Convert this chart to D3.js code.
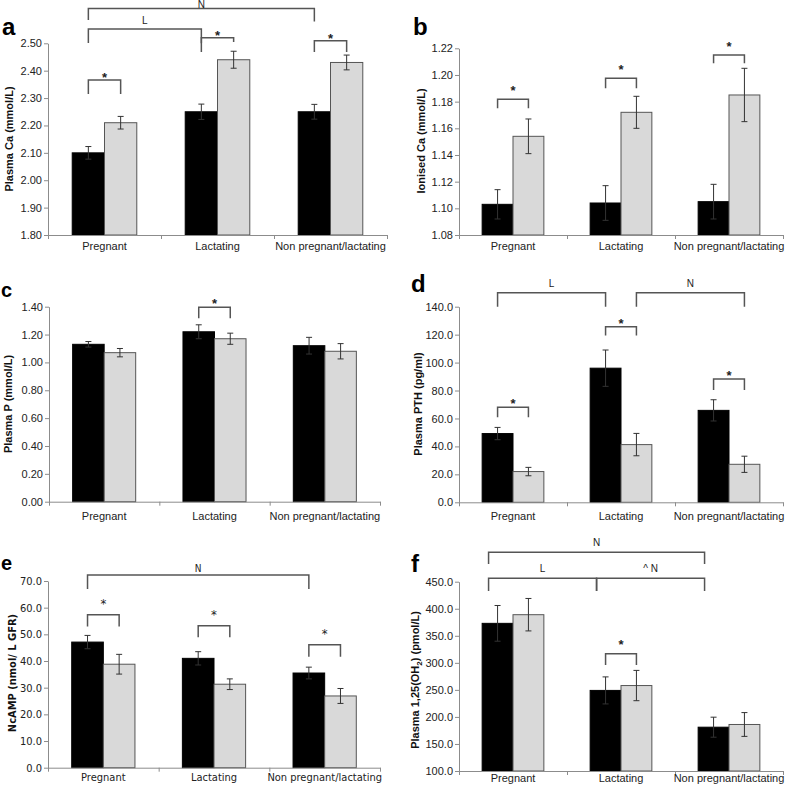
<!DOCTYPE html>
<html>
<head>
<meta charset="utf-8">
<script src="https://cdn.jsdelivr.net/npm/d3@7"></script>
<style>
body{margin:0;background:#fff;}
svg{display:block;}
</style>
</head>
<body>
<svg id="chart" width="787" height="789"></svg>
<script>
// ---------- data ----------
const categories = ["Pregnant", "Lactating", "Non pregnant/lactating"];
const series = ["Group 1", "Group 2"];

// a: Plasma Ca
const caBlack = [2.10, 2.25, 2.25];
const caGrey = [2.21, 2.44, 2.43];
const caBlackErr = [0.023, 0.028, 0.027];
const caGreyErr = [0.023, 0.031, 0.027];
const caTicks = [1.80, 1.90, 2.00, 2.10, 2.20, 2.30, 2.40, 2.50];

// b: Ionised Ca
const ionBlack = [1.103, 1.104, 1.105];
const ionGrey = [1.154, 1.172, 1.185];
const ionBlackErr = [0.011, 0.013, 0.013];
const ionGreyErr = [0.013, 0.012, 0.020];
const ionTicks = [1.08, 1.10, 1.12, 1.14, 1.16, 1.18, 1.20, 1.22];

// c: Plasma P
const pBlack = [1.13, 1.22, 1.12];
const pGrey = [1.07, 1.17, 1.08];
const pBlackErr = [0.02, 0.05, 0.06];
const pGreyErr = [0.03, 0.04, 0.055];
const pTicks = [0, 0.2, 0.4, 0.6, 0.8, 1.0, 1.2, 1.4];

// d: Plasma PTH
const pthBlack = [49.2, 96.0, 65.8];
const pthGrey = [22.0, 41.3, 27.2];
const pthBlackErr = [4.4, 13.0, 7.6];
const pthGreyErr = [3.0, 8.0, 5.8];
const pthTicks = [0, 20, 40, 60, 80, 100, 120, 140];

// e: NcAMP
const campBlack = [47.1, 41.0, 35.5];
const campGrey = [38.8, 31.3, 26.9];
const campBlackErr = [2.5, 2.5, 2.2];
const campGreyErr = [3.7, 2.0, 2.8];
const campTicks = [0, 10, 20, 30, 40, 50, 60, 70];

// f: Plasma 1,25(OH)2
const vitdBlack = [373, 249, 181];
const vitdGrey = [389, 258, 186];
const vitdBlackErr = [33, 25, 18.5];
const vitdGreyErr = [30, 28, 22];
const vitdTicks = [100, 150, 200, 250, 300, 350, 400, 450];

// significance brackets: ends as [category index, series index], levels in data units
const bracketsA = [
  {from: [0, 0], to: [0, 1], top: 2.366, legL: 2.315, legR: 2.315, label: "*"},
  {from: [1, 0], to: [1, 1], top: 2.520, legL: 2.500, legR: 2.505, label: "*"},
  {from: [2, 0], to: [2, 1], top: 2.509, legL: 2.468, legR: 2.468, label: "*"},
  {from: [0, 0], to: [1, 0], top: 2.552, legL: 2.501, legR: 2.468, label: "L"},
  {from: [0, 0], to: [2, 0], top: 2.627, legL: 2.585, legR: 2.580, label: "N"}
];
const bracketsB = [
  {from: [0, 0], to: [0, 1], top: 1.1818, legL: 1.175, legR: 1.175, label: "*"},
  {from: [1, 0], to: [1, 1], top: 1.1975, legL: 1.190, legR: 1.190, label: "*"},
  {from: [2, 0], to: [2, 1], top: 1.2150, legL: 1.2088, legR: 1.2088, label: "*"}
];
const bracketsC = [
  {from: [1, 0], to: [1, 1], top: 1.3956, legL: 1.3166, legR: 1.3166, label: "*"}
];
const bracketsD = [
  {from: [0, 0], to: [0, 1], top: 68.0, legL: 60.8, legR: 60.8, label: "*"},
  {from: [1, 0], to: [1, 1], top: 125.7, legL: 119.3, legR: 119.3, label: "*"},
  {from: [2, 0], to: [2, 1], top: 88.3, legL: 80.4, legR: 80.4, label: "*"},
  {from: [0, 0], to: [1, 0], top: 150.0, legL: 140.0, legR: 140.0, label: "L"},
  {from: [1, 1], to: [2, 1], top: 150.0, legL: 140.0, legR: 140.0, label: "N"}
];
const bracketsE = [
  {from: [0, 0], to: [0, 1], top: 57.3, legL: 52.9, legR: 52.9, label: "*"},
  {from: [1, 0], to: [1, 1], top: 53.2, legL: 48.9, legR: 48.9, label: "*"},
  {from: [2, 0], to: [2, 1], top: 46.1, legL: 41.6, legR: 41.6, label: "*"},
  {from: [0, 0], to: [2, 0], top: 72.25, legL: 67.0, legR: 67.0, label: "N"}
];
const bracketsF = [
  {from: [1, 0], to: [1, 1], top: 316.9, legL: 296.0, legR: 296.0, label: "*"},
  {from: [0, 0], to: [1, 0], top: 456.3, legL: 432.8, legR: 432.8, label: "L"},
  {from: [1, 0], to: [2, 0], top: 456.3, legL: 432.8, legR: 432.8, label: "^ N"},
  {from: [0, 0], to: [2, 0], top: 504.3, legL: 482.7, legR: 482.7, label: "N"}
];

// ---------- layout ----------
const panels = [
  {letter: "a", lx: 2, ly: 35, lsize: 24, title: ["Plasma Ca (mmol/L)"], tx: 13, ty: 139,
   x0: 48, x1: 387, yt: 43.3, yb: 235, domain: [1.80, 2.50], ticks: caTicks, fmt: ".2f",
   black: caBlack, grey: caGrey, bErr: caBlackErr, gErr: caGreyErr, brackets: bracketsA,
   catY: 251, starGap: 5, labGap: 9, condensed: false, bxShift: 0},
  {letter: "b", lx: 413, ly: 35, lsize: 24, title: ["Ionised Ca (mmol/L)"], tx: 425, ty: 141,
   x0: 459, x1: 783, yt: 48.3, yb: 235, domain: [1.08, 1.22], ticks: ionTicks, fmt: ".2f",
   black: ionBlack, grey: ionGrey, bErr: ionBlackErr, gErr: ionGreyErr, brackets: bracketsB,
   catY: 251, starGap: 11, labGap: 9, condensed: false, bxShift: 0},
  {letter: "c", lx: 1, ly: 297, lsize: 20, title: ["Plasma P (mmol/L)"], tx: 12, ty: 404,
   x0: 49, x1: 380, yt: 306.7, yb: 501.7, domain: [0, 1.4], ticks: pTicks, fmt: ".2f",
   black: pBlack, grey: pGrey, bErr: pBlackErr, gErr: pGreyErr, brackets: bracketsC,
   catY: 521, starGap: 6, labGap: 9, condensed: false, bxShift: 0},
  {letter: "d", lx: 411, ly: 292, lsize: 24, title: ["Plasma PTH (pg/ml)"], tx: 422, ty: 404,
   x0: 459, x1: 783, yt: 306.7, yb: 502.3, domain: [0, 140], ticks: pthTicks, fmt: ".1f",
   black: pthBlack, grey: pthGrey, bErr: pthBlackErr, gErr: pthGreyErr, brackets: bracketsD,
   catY: 521, starGap: 6, labGap: 9, condensed: false, bxShift: 0},
  {letter: "e", lx: 1, ly: 570, lsize: 20, title: ["NcAMP (nmol/ L GFR)"], tx: 16, ty: 673,
   x0: 48, x1: 380, yt: 581, yb: 767.7, domain: [0, 70], ticks: campTicks, fmt: ".1f",
   black: campBlack, grey: campGrey, bErr: campBlackErr, gErr: campGreyErr, brackets: bracketsE,
   catY: 782, starGap: 14, labGap: 7, condensed: true, bxShift: 0},
  {letter: "f", lx: 411, ly: 572, lsize: 24, title: null, tx: 419, ty: 680,
   x0: 459, x1: 783, yt: 581.7, yb: 771, domain: [100, 450], ticks: vitdTicks, fmt: ".1f",
   black: vitdBlack, grey: vitdGrey, bErr: vitdBlackErr, gErr: vitdGreyErr, brackets: bracketsF,
   catY: 783, starGap: 12, labGap: 10, condensed: false, bxShift: -9}
];

const svg = d3.select("#chart");
svg.append("rect").attr("width", 787).attr("height", 789).attr("fill", "#fff");
const FONT = "'Liberation Sans', Arial, sans-serif";
const NARROW = "'Liberation Sans Narrow', 'Arial Narrow', 'DejaVu Sans Condensed', sans-serif";
const AXIS = "#8c8c8c";

panels.forEach(p => {
  const g = svg.append("g");
  const x = d3.scaleBand().domain(categories).range([p.x0, p.x1]);
  const xs = d3.scaleBand().domain(series).range([0, x.bandwidth()]).paddingInner(0).paddingOuter(0.75);
  const y = d3.scaleLinear().domain(p.domain).range([p.yb, p.yt]);
  const barCenter = (c, s) => x(categories[c]) + xs(series[s]) + xs.bandwidth() / 2;
  const tickFont = p.condensed ? NARROW : FONT;

  // bars
  const rows = [];
  categories.forEach((c, i) => {
    rows.push({c, s: series[0], v: p.black[i], e: p.bErr[i], fill: "#000", stroke: "#000"});
    rows.push({c, s: series[1], v: p.grey[i], e: p.gErr[i], fill: "#d9d9d9", stroke: "#555"});
  });
  g.selectAll("rect.bar").data(rows).join("rect")
    .attr("class", "bar")
    .attr("x", d => x(d.c) + xs(d.s))
    .attr("width", xs.bandwidth())
    .attr("y", d => y(d.v))
    .attr("height", d => y(p.domain[0]) - y(d.v))
    .attr("fill", d => d.fill)
    .attr("stroke", d => d.stroke)
    .attr("stroke-width", 1);

  // error bars
  const eb = g.selectAll("g.err").data(rows).join("g").attr("class", "err")
    .attr("stroke", "#333").attr("stroke-width", 1);
  eb.append("line")
    .attr("x1", d => x(d.c) + xs(d.s) + xs.bandwidth() / 2)
    .attr("x2", d => x(d.c) + xs(d.s) + xs.bandwidth() / 2)
    .attr("y1", d => y(d.v + d.e)).attr("y2", d => y(d.v - d.e));
  [1, -1].forEach(sign => {
    eb.append("line")
      .attr("x1", d => x(d.c) + xs(d.s) + xs.bandwidth() / 2 - 3)
      .attr("x2", d => x(d.c) + xs(d.s) + xs.bandwidth() / 2 + 3)
      .attr("y1", d => y(d.v + sign * d.e)).attr("y2", d => y(d.v + sign * d.e));
  });

  // y axis
  const ya = g.append("g").attr("transform", `translate(${p.x0},0)`)
    .call(d3.axisLeft(y).tickValues(p.ticks).tickFormat(d3.format(p.fmt)).tickSize(4).tickSizeOuter(0));
  ya.select(".domain").attr("stroke", AXIS);
  ya.selectAll(".tick line").attr("stroke", AXIS);
  ya.selectAll(".tick text").attr("font-family", tickFont).attr("font-size", 11)
    .attr("fill", "#222").attr("x", -6);

  // x axis (category boundaries)
  const xb = d3.scaleLinear().domain([0, categories.length]).range([p.x0, p.x1]);
  const xa = g.append("g").attr("transform", `translate(0,${p.yb})`)
    .call(d3.axisBottom(xb).tickValues(d3.range(categories.length + 1)).tickFormat("").tickSize(4).tickSizeOuter(0));
  xa.select(".domain").attr("stroke", AXIS);
  xa.selectAll(".tick line").attr("stroke", AXIS);

  // category labels
  const xl = g.append("g").attr("transform", `translate(0,${p.yb})`)
    .call(d3.axisBottom(x).tickSize(0));
  xl.select(".domain").remove();
  xl.selectAll(".tick text").attr("font-family", tickFont)
    .attr("font-size", 11).attr("fill", "#222")
    .attr("y", p.catY - p.yb - 9);

  // brackets
  p.brackets.forEach(b => {
    const shift = b.label === "*" ? 0 : p.bxShift;
    const xa1 = barCenter(b.from[0], b.from[1]) + shift;
    const xa2 = barCenter(b.to[0], b.to[1]) + shift;
    const yt = y(b.top);
    g.append("path")
      .attr("d", `M${xa1},${y(b.legL)}V${yt}H${xa2}V${y(b.legR)}`)
      .attr("fill", "none").attr("stroke", "#555").attr("stroke-width", 1.5);
    const isStar = b.label === "*";
    g.append("text")
      .attr("x", (xa1 + xa2) / 2)
      .attr("y", isStar ? yt - p.starGap + 7 : Math.max(8, yt - p.labGap + 3.6))
      .attr("text-anchor", "middle")
      .attr("font-family", p.condensed ? NARROW : FONT)
      .attr("font-size", isStar ? 13 : 10)
      .attr("font-weight", isStar && !p.condensed ? "bold" : "normal")
      .attr("fill", "#222")
      .text(b.label);
  });

  // panel letter
  g.append("text").attr("x", p.lx).attr("y", p.ly)
    .attr("font-family", FONT).attr("font-weight", "bold").attr("font-size", p.lsize)
    .attr("fill", "#000").text(p.letter);

  // y title
  const t = g.append("text")
    .attr("transform", `translate(${p.tx},${p.ty}) rotate(-90)`)
    .attr("text-anchor", "middle")
    .attr("font-family", p.condensed ? NARROW : FONT).attr("font-weight", "bold").attr("font-size", 11)
    .attr("fill", "#111");
  if (p.title) {
    t.text(p.title[0]);
  } else {
    t.append("tspan").text("Plasma 1,25(OH");
    t.append("tspan").attr("font-size", 8).attr("dy", 3).text("2");
    t.append("tspan").attr("dy", -3).text(") (pmol/L)");
  }
});
</script>
</body>
</html>
